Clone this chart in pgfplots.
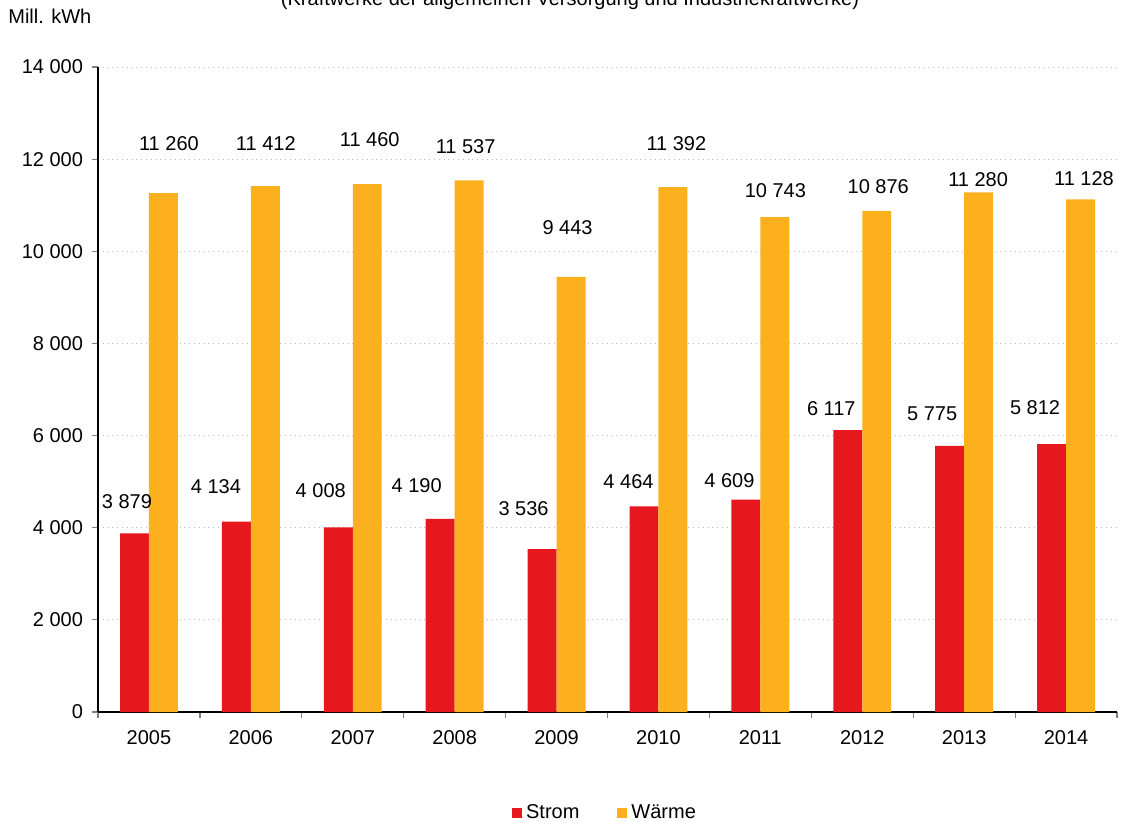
\documentclass[border=0pt]{standalone}
\usepackage{pgfplots}
\pgfplotsset{compat=1.18}
\usepackage{fontspec}
\setmainfont{Liberation Sans}
\definecolor{strom}{RGB}{230,24,30}
\definecolor{waerme}{RGB}{252,176,29}
\pgfplotstableread[col sep=comma]{
x,y
0,3879
1,4134
2,4008
3,4190
4,3536
5,4464
6,4609
7,6117
8,5775
9,5812
}\strom
\pgfplotstableread[col sep=comma]{
x,y
0,11260
1,11412
2,11460
3,11537
4,9443
5,11392
6,10743
7,10876
8,11280
9,11128
}\waerme
\pgfplotstableread[col sep=comma]{
x,y,lab
-0.216,4560,3 879
0.657,4884,4 134
1.686,4797,4 008
2.627,4905,4 190
3.676,4406,3 536
4.706,4992,4 464
5.696,5014,4 609
6.696,6577,6 117
7.686,6468,5 775
8.696,6598,5 812
}\stromlab
\pgfplotstableread[col sep=comma]{
x,y,lab
0.196,12330,11 260
1.147,12350,11 412
2.167,12415,11 460
3.108,12263,11 537
4.108,10505,9 443
5.176,12328,11 392
6.147,11308,10 743
7.157,11395,10 876
8.137,11547,11 280
9.176,11569,11 128
}\waermelab
\begin{document}
\fontsize{10}{12}\selectfont
\begin{tikzpicture}
\path[use as bounding box] (0,0) rectangle (561pt,413pt);
\node[anchor=base, inner sep=0pt] at (285pt,410pt) {(Kraftwerke der allgemeinen Versorgung und Industriekraftwerke)};
\node[anchor=base west, inner sep=0pt] at (4pt,401pt) {Mill. kWh};
\begin{axis}[
  at={(49pt,57pt)}, anchor=south west,
  scale only axis, width=509.5pt, height=322.5pt,
  xmin=-0.5, xmax=9.5, ymin=0, ymax=14000,
  axis x line=bottom, axis y line=left,
  axis line style={-, black, line width=0.6pt},
  xtick={0,...,9},
  xticklabels={2005,2006,2007,2008,2009,2010,2011,2012,2013,2014},
  minor xtick={-0.5,0.5,...,9.5},
  major x tick style={draw=none},
  minor x tick style={gray, line width=0.6pt},
  minor tick length=3pt,
  ytick={0,2000,...,14000},
  scaled y ticks=false,
  y tick style={gray, line width=0.6pt},
  major tick length=3pt,
  tick align=outside,
  ymajorgrids,
  major grid style={gray!55, dotted, line width=0.5pt},
  xticklabel style={yshift=-2.5pt},
  yticklabel style={xshift=-1pt},
  /pgf/number format/.cd, 1000 sep={\ }, assume math mode=true,
  /pgfplots/.cd,
  tick label style={font=\fontsize{10}{12}\selectfont},
  legend style={at={(0.4985,-0.1566)}, anchor=center, draw=none, fill=none,
    legend columns=2, font=\fontsize{10}{12}\selectfont,
    /tikz/every even column/.append style={column sep=17pt},
    inner sep=0pt, row sep=0pt},
  legend image code/.code={\fill[#1] (0pt,-2.5pt) rectangle (5pt,2.5pt);},
  legend cell align=left,
]
\addplot[ybar, bar width=0.284, bar shift=-0.142, fill=strom, draw=none] table[x=x,y=y]{\strom};
\addlegendentry{Strom}
\addplot[ybar, bar width=0.284, bar shift=0.142, fill=waerme, draw=none] table[x=x,y=y]{\waerme};
\addlegendentry{Wärme}
\addplot[draw=none, mark=none, forget plot, nodes near coords, point meta=explicit symbolic,
  every node near coord/.append style={anchor=center, inner sep=0pt, font=\fontsize{10}{12}\selectfont}]
  table[x=x,y=y,meta=lab]{\stromlab};
\addplot[draw=none, mark=none, forget plot, nodes near coords, point meta=explicit symbolic,
  every node near coord/.append style={anchor=center, inner sep=0pt, font=\fontsize{10}{12}\selectfont}]
  table[x=x,y=y,meta=lab]{\waermelab};
\end{axis}
\end{tikzpicture}
\end{document}
